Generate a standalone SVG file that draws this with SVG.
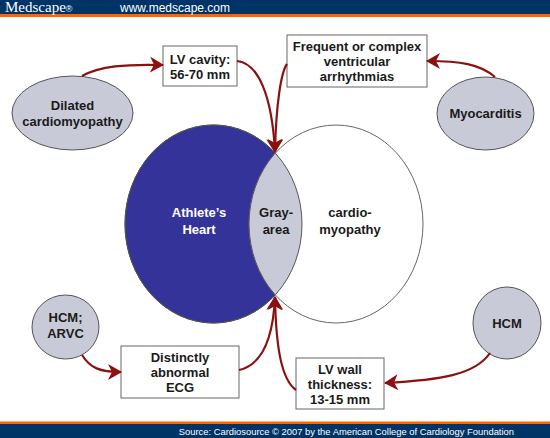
<svg xmlns="http://www.w3.org/2000/svg" width="550" height="438" viewBox="0 0 550 438">
<style>
.t{font-family:"Liberation Sans",Arial,sans-serif;font-weight:bold;font-size:13px;fill:#1a1a1a;text-anchor:middle}
.w{fill:#ffffff}
.node{fill:#c9cad7;stroke:#555;stroke-width:1}
.box{fill:#ffffff;stroke:#666;stroke-width:1}
.con{fill:none;stroke:#8b1111;stroke-width:2.2}
</style>
<defs>
<marker id="ah" markerUnits="userSpaceOnUse" viewBox="0 0 14 16" refX="13" refY="8" markerWidth="14" markerHeight="16" orient="auto">
<path d="M0,0 L14,8 L0,16 L4,8 z" fill="#8b1111"/>
</marker>
<clipPath id="blueClip"><ellipse cx="213.5" cy="224" rx="88.5" ry="99"/></clipPath>
</defs>
<rect width="550" height="438" fill="#ffffff"/>
<g id="header">
<rect x="0" y="0" width="550" height="14" fill="#003366"/>
<rect x="0" y="14" width="550" height="3" fill="#ff6600"/>
<text x="5" y="12" font-family="Liberation Serif,serif" font-size="15" fill="#ffffff">Medscape<tspan font-size="9" font-family="Liberation Sans,sans-serif">®</tspan></text>
<text x="120" y="12" font-family="Liberation Sans,Arial,sans-serif" font-size="12" fill="#ffffff">www.medscape.com</text>
</g>
<g id="footer">
<rect x="0" y="421.5" width="550" height="2.5" fill="#ff6600"/>
<rect x="0" y="424" width="550" height="14" fill="#003366"/>
<text x="514" y="435" text-anchor="end" font-family="Liberation Sans,Arial,sans-serif" font-size="9.4" fill="#ffffff">Source: Cardiosource © 2007 by the American College of Cardiology Foundation</text>
</g>
<g id="venn">
<ellipse cx="213.5" cy="224" rx="88.5" ry="99" fill="#333399" stroke="#444" stroke-width="1"/>
<ellipse cx="336" cy="224" rx="87" ry="99" fill="#ffffff" stroke="#666" stroke-width="1"/>
<ellipse cx="336" cy="224" rx="87" ry="99" fill="#c9cad7" stroke="#555" stroke-width="1" clip-path="url(#blueClip)"/>
<ellipse cx="213.5" cy="224" rx="88.5" ry="99" fill="none" stroke="#555" stroke-width="1"/>
</g>
<g id="athletes-heart"><text class="t w" x="199" y="217">Athlete’s</text><text class="t w" x="199" y="234">Heart</text></g>
<g id="gray-area"><text class="t" x="276" y="217">Gray-</text><text class="t" x="276" y="234">area</text></g>
<g id="cardiomyopathy"><text class="t" x="350" y="217">cardio-</text><text class="t" x="350" y="234">myopathy</text></g>
<g id="dilated"><ellipse class="node" cx="72.5" cy="113" rx="60.5" ry="37"/><text class="t" x="72.5" y="110">Dilated</text><text class="t" x="72.5" y="126">cardiomyopathy</text></g>
<g id="lv-cavity"><rect class="box" x="163" y="46" width="74" height="40"/><text class="t" x="200" y="64">LV cavity:</text><text class="t" x="200" y="79">56-70 mm</text></g>
<g id="frequent"><rect class="box" x="287" y="35" width="140" height="52"/><text class="t" x="357" y="51">Frequent or complex</text><text class="t" x="357" y="66">ventricular</text><text class="t" x="357" y="81">arrhythmias</text></g>
<g id="myocarditis"><ellipse class="node" cx="485.5" cy="113.5" rx="48.5" ry="36.5"/><text class="t" x="485.5" y="118">Myocarditis</text></g>
<g id="hcm-arvc"><ellipse class="node" cx="65.5" cy="327" rx="33.5" ry="32"/><text class="t" x="65.5" y="322">HCM;</text><text class="t" x="65.5" y="338">ARVC</text></g>
<g id="ecg"><rect class="box" x="121" y="346" width="118" height="52"/><text class="t" x="180" y="362">Distinctly</text><text class="t" x="180" y="377">abnormal</text><text class="t" x="180" y="392">ECG</text></g>
<g id="hcm"><ellipse class="node" cx="507" cy="323" rx="34" ry="36"/><text class="t" x="507" y="328">HCM</text></g>
<g id="lv-wall"><rect class="box" x="296" y="358" width="88" height="51"/><text class="t" x="340" y="374">LV wall</text><text class="t" x="340" y="389">thickness:</text><text class="t" x="340" y="404">13-15 mm</text></g>
<g id="connectors">
<path class="con" marker-end="url(#ah)" d="M82,76 C100,66 125,64 163,65"/>
<path class="con" marker-end="url(#ah)" d="M237,61 C258,63 272,95 275,152"/>
<path class="con" marker-end="url(#ah)" d="M495,77 C480,64 460,61 427,61"/>
<path class="con" marker-end="url(#ah)" d="M287,64 C281,72 276,105 275,152"/>
<path class="con" marker-end="url(#ah)" d="M82,355 C90,368 100,372 121,372"/>
<path class="con" marker-end="url(#ah)" d="M239,370 C262,365 273,340 275,297"/>
<path class="con" marker-end="url(#ah)" d="M490,353 C475,375 440,380 385,383"/>
<path class="con" marker-end="url(#ah)" d="M296,390 C282,380 276,350 275,297"/>
</g>
</svg>
